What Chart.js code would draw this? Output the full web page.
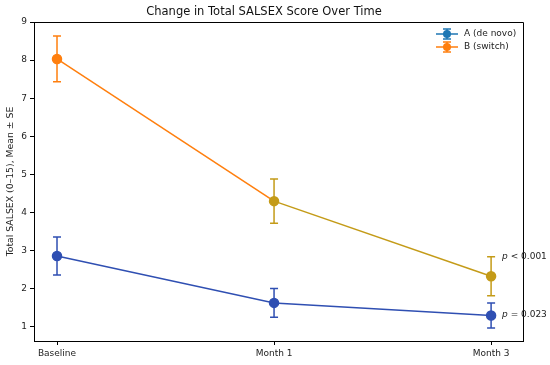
<!DOCTYPE html>
<html>
<head>
<meta charset="utf-8">
<script src="https://cdn.jsdelivr.net/npm/chart.js@4"></script>
<style>
  html, body { margin: 0; padding: 0; background: #fff; }
  #wrap { width: 550px; height: 365px; }
</style>
</head>
<body>
<div id="wrap"><canvas id="chart"></canvas></div>
<script>
const categories = ["Baseline", "Month 1", "Month 3"];
const meanA = [2.86, 1.63, 1.30];
const seA = [0.50, 0.38, 0.33];
const meanB = [8.03, 4.30, 2.33];
const seB = [0.60, 0.58, 0.51];
const yTicks = [1, 2, 3, 4, 5, 6, 7, 8, 9];
const pNotes = [
    { text: " < 0.001", y: 2.83 },
    { text: " = 0.023", y: 1.33 }
];

const blue = "#1f77b4";
const orange = "#ff7f0e";
const darkBlue = "#2f4fb2";
const gold = "#c49b18";
const FONT = "'DejaVu Sans', sans-serif";

// colours actually seen on the marks (legend keeps the default ones)
const colorsA = [darkBlue, darkBlue, darkBlue];
const colorsB = [orange, gold, gold];

function toPoints(means) {
    return means.map((v, i) => ({ x: i, y: v }));
}

const errorBars = {
    id: "errorBars",
    beforeDatasetsDraw(chart) {
        const ctx = chart.ctx;
        const xs = chart.scales.x, ys = chart.scales.y;
        const sets = [[meanA, seA, colorsA], [meanB, seB, colorsB]];
        ctx.save();
        ctx.lineWidth = 1.5;
        sets.forEach(([m, se, cols]) => {
            m.forEach((v, i) => {
                const x = xs.getPixelForValue(i);
                const top = ys.getPixelForValue(v + se[i]);
                const bot = ys.getPixelForValue(v - se[i]);
                ctx.strokeStyle = cols[i];
                ctx.beginPath();
                ctx.moveTo(x, top); ctx.lineTo(x, bot);
                ctx.moveTo(x - 4, top); ctx.lineTo(x + 4, top);
                ctx.moveTo(x - 4, bot); ctx.lineTo(x + 4, bot);
                ctx.stroke();
            });
        });
        ctx.restore();
    }
};

const extras = {
    id: "extras",
    afterDraw(chart) {
        const ctx = chart.ctx;
        const a = chart.chartArea;
        const xs = chart.scales.x, ys = chart.scales.y;
        ctx.save();
        // box: top and right spines
        ctx.strokeStyle = "#000";
        ctx.lineWidth = 1;
        ctx.beginPath();
        ctx.moveTo(a.left, a.top + 0.5); ctx.lineTo(a.right + 0.5, a.top + 0.5);
        ctx.lineTo(a.right + 0.5, a.bottom);
        ctx.stroke();

        // p-value notes
        ctx.fillStyle = "#222";
        ctx.textBaseline = "middle";
        pNotes.forEach(n => {
            const x = xs.getPixelForValue(2) + 11;
            const y = ys.getPixelForValue(n.y);
            ctx.font = "italic 9px " + FONT;
            ctx.fillText("p", x, y);
            const w = ctx.measureText("p").width;
            ctx.font = "9px " + FONT;
            ctx.fillText(n.text, x + w, y);
        });

        // legend
        const items = [["A (de novo)", blue], ["B (switch)", orange]];
        items.forEach(([label, col], k) => {
            const y = 34 + k * 13;
            const cx = 447;
            ctx.strokeStyle = col;
            ctx.fillStyle = col;
            ctx.lineWidth = 1.5;
            ctx.beginPath();
            ctx.moveTo(436, y); ctx.lineTo(458, y);
            ctx.moveTo(cx, y - 5); ctx.lineTo(cx, y + 5);
            ctx.moveTo(cx - 4, y - 5); ctx.lineTo(cx + 4, y - 5);
            ctx.moveTo(cx - 4, y + 5); ctx.lineTo(cx + 4, y + 5);
            ctx.stroke();
            ctx.beginPath();
            ctx.arc(cx, y, 4, 0, Math.PI * 2);
            ctx.fill();
            ctx.fillStyle = "#222";
            ctx.font = "9px " + FONT;
            ctx.fillText(label, 464, y);
        });
        ctx.restore();
    }
};

new Chart(document.getElementById("chart"), {
    type: "line",
    data: {
        datasets: [{
            label: "A (de novo)",
            data: toPoints(meanA),
            borderColor: darkBlue,
            backgroundColor: colorsA,
            pointBackgroundColor: colorsA,
            pointBorderColor: colorsA,
            borderWidth: 1.5,
            pointRadius: 4.5,
            tension: 0
        }, {
            label: "B (switch)",
            data: toPoints(meanB),
            borderColor: orange,
            segment: {
                borderColor: c => c.p0DataIndex === 0 ? orange : gold
            },
            backgroundColor: colorsB,
            pointBackgroundColor: colorsB,
            pointBorderColor: colorsB,
            borderWidth: 1.5,
            pointRadius: 4.5,
            tension: 0
        }]
    },
    options: {
        responsive: true,
        maintainAspectRatio: false,
        animation: false,
        layout: { padding: { left: 5, right: 27, top: 0, bottom: 0 } },
        plugins: {
            legend: { display: false },
            tooltip: { enabled: false },
            title: {
                display: true,
                text: "Change in Total SALSEX Score Over Time",
                color: "#111",
                font: { family: FONT, size: 11.5, weight: "normal" },
                padding: { top: 5, bottom: 3.2 }
            }
        },
        scales: {
            x: {
                type: "linear",
                min: -0.106,
                max: 2.147,
                afterBuildTicks: s => { s.ticks = categories.map((c, i) => ({ value: i })); },
                afterFit: s => { s.height = 24; },
                ticks: {
                    callback: v => categories[v],
                    color: "#222",
                    font: { family: FONT, size: 9 },
                    padding: 3,
                    maxRotation: 0
                },
                grid: { drawOnChartArea: false, drawTicks: true, tickLength: 4, color: "#000" },
                border: { color: "#000", width: 1 }
            },
            y: {
                min: 0.63,
                max: 9,
                afterBuildTicks: s => { s.ticks = yTicks.map(v => ({ value: v })); },
                afterFit: s => { s.width = 29; },
                title: {
                    display: true,
                    text: "Total SALSEX (0–15), Mean ± SE",
                    color: "#222",
                    font: { family: FONT, size: 9.3 },
                    padding: { top: 0, bottom: 2 }
                },
                ticks: {
                    color: "#222",
                    font: { family: FONT, size: 9 },
                    padding: 3
                },
                grid: { drawOnChartArea: false, drawTicks: true, tickLength: 4, color: "#000" },
                border: { color: "#000", width: 1 }
            }
        }
    },
    plugins: [errorBars, extras]
});
</script>
</body>
</html>
